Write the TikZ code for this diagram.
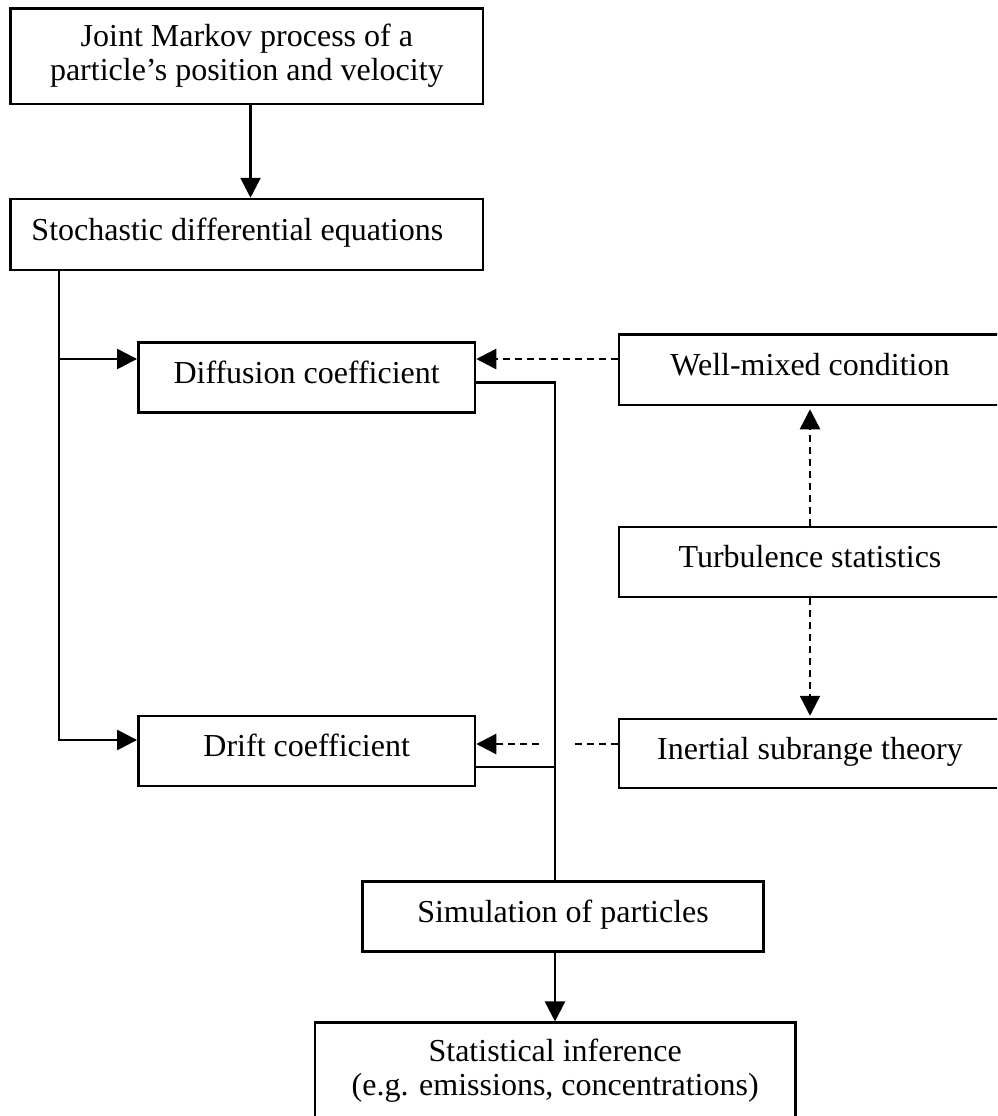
\documentclass[tikz,border=0pt]{standalone}
\usepackage{fontspec}
\setmainfont{Liberation Serif}
\usetikzlibrary{arrows.meta,calc}
\begin{document}
\begin{tikzpicture}[x=1pt,y=-1pt,
  box/.style={draw, line width=2.5pt, inner sep=0pt, font=\fontsize{32}{34}\selectfont},
  one/.style={text height=22pt, text depth=11pt},
  line/.style={draw, line width=2.5pt},
  arr/.style={line, -{Triangle[length=20pt,width=20pt]}},
  dline/.style={line, dash pattern=on 7pt off 5pt},
  darr/.style={dline, -{Triangle[length=20pt,width=20pt]}}]
\useasboundingbox (0,0) rectangle (997,1116);
\clip (0,0) rectangle (997,1116);
\fill[white] (0,0) rectangle (997,1116);

\node[box, minimum width=472.3pt, minimum height=95.7pt, align=center] (j) at (246.85,56.15)
  {Joint Markov process of a\\particle’s position and velocity};
\node[box, one, minimum width=472.3pt, minimum height=71pt] (s) at (246.85,234.5)
  {Stochastic differential equations\rule{19pt}{0pt}};
\node[box, one, minimum width=336.7pt, minimum height=70pt] (dif) at (306.65,377.7) {Diffusion coefficient};
\node[box, one, minimum width=382pt, minimum height=70.5pt] (wm) at (810,369.75) {Well-mixed condition};
\node[box, one, minimum width=382pt, minimum height=70pt] (ts) at (810,562) {Turbulence statistics};
\node[box, one, minimum width=336.7pt, minimum height=70pt] (dr) at (306.65,751) {Drift coefficient};
\node[box, one, minimum width=382pt, minimum height=69pt] (is) at (810,753.5) {Inertial subrange theory};
\node[box, one, minimum width=401.3pt, minimum height=69.6pt] (sim) at (563,916.5) {Simulation of particles};
\node[box, minimum width=480.4pt, minimum height=95.3pt, align=center] (stat) at (555.2,1070.35)
  {Statistical inference\\(e.g. emissions, concentrations)};

\coordinate (xa) at (250.5,0);
\coordinate (xl) at (59,0);
\coordinate (xv) at (555,0);
\coordinate (y1) at (0,359);
\coordinate (y2) at (0,740);
\coordinate (y3) at (0,382.5);
\coordinate (y4) at (0,767);
\coordinate (y5) at (0,744);
\coordinate (gl) at (539,744);
\coordinate (gr) at (570,744);

\draw[arr] (j.south -| xa) -- (s.north -| xa);
\draw[arr] (s.south -| xl) |- (dif.west |- y1);
\draw[arr] (s.south -| xl) |- (dr.west |- y2);
\draw[line] (dif.east |- y3) -| (sim.north -| xv);
\draw[line] (dr.east |- y4) -- (xv |- y4);
\draw[darr] (wm.west |- y1) -- (dif.east |- y1);
\draw[darr, shorten >=3pt] (ts.north) -- (wm.south);
\draw[darr, shorten >=2pt] (ts.south) -- (is.north);
\draw[dline] (is.west |- y5) -- (gr);
\draw[darr] (gl) -- (dr.east |- y5);
\draw[arr] (sim.south -| xv) -- (stat.north -| xv);
\end{tikzpicture}
\end{document}
